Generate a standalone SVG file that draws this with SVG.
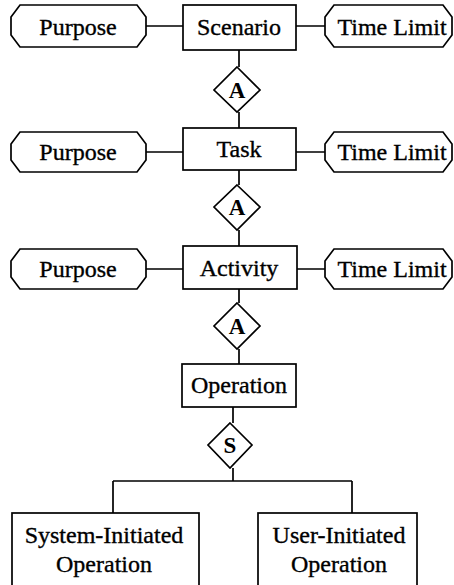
<svg xmlns="http://www.w3.org/2000/svg" width="454" height="585" viewBox="0 0 454 585">
<style>
.s{fill:#fff;stroke:#000;stroke-width:1.7}
.c{fill:none;stroke:#000;stroke-width:1.7}
text{font-family:"Liberation Serif","Times New Roman",serif;font-size:24px;text-anchor:middle;fill:#000;stroke:#000;stroke-width:0.35}
.d{font-size:23px;font-weight:bold;stroke-width:0}
</style>
<rect width="454" height="585" fill="#fff"/>
<g id="connectors">
<path class="c" d="M146 26H183M296 26H325M146 152H183M296 152H325M146 269H183M297 269H325"/>
<path class="c" d="M239 50V67M239 112V128M239 170V185M239 230V246M239 289V303M239 349V364M233 407V423M233 468V481M113 481H352M113 481V513M352 481V513"/>
</g>
<g id="purpose1"><path class="s" d="M20 5H137L146 17V35L137 47H20L11 35V17Z"/><text x="78" y="35">Purpose</text></g>
<g id="scenario"><rect class="s" x="183" y="5" width="113" height="45"/><text x="239" y="35">Scenario</text></g>
<g id="timelimit1"><path class="s" d="M334 5H443L452 17V35L443 47H334L325 35V17Z"/><text x="392" y="35">Time Limit</text></g>
<g id="a1"><path class="s" d="M237 67L260 90L237 112L214 90Z"/><text class="d" x="237" y="98">A</text></g>
<g id="purpose2"><path class="s" d="M20 132H137L146 144V160L137 172H20L11 160V144Z"/><text x="78" y="160">Purpose</text></g>
<g id="task"><rect class="s" x="183" y="128" width="113" height="42"/><text x="239" y="157">Task</text></g>
<g id="timelimit2"><path class="s" d="M334 132H443L452 144V160L443 172H334L325 160V144Z"/><text x="392" y="160">Time Limit</text></g>
<g id="a2"><path class="s" d="M237 185L260 207L237 230L214 207Z"/><text class="d" x="237" y="215">A</text></g>
<g id="purpose3"><path class="s" d="M20 249H137L146 261V277L137 289H20L11 277V261Z"/><text x="78" y="277">Purpose</text></g>
<g id="activity"><rect class="s" x="183" y="246" width="114" height="43"/><text x="239" y="276">Activity</text></g>
<g id="timelimit3"><path class="s" d="M334 249H443L452 261V277L443 289H334L325 277V261Z"/><text x="392" y="277">Time Limit</text></g>
<g id="a3"><path class="s" d="M237 303L260 326L237 349L214 326Z"/><text class="d" x="237" y="334">A</text></g>
<g id="operation"><rect class="s" x="182" y="364" width="114" height="43"/><text x="239" y="393">Operation</text></g>
<g id="s"><path class="s" d="M230 423L252 445L230 468L208 445Z"/><text class="d" x="230" y="453">S</text></g>
<g id="sysop"><rect class="s" x="12" y="513" width="187" height="80"/><text x="104" y="543">System-Initiated</text><text x="104" y="572">Operation</text></g>
<g id="userop"><rect class="s" x="258" y="513" width="159" height="80"/><text x="339" y="543">User-Initiated</text><text x="339" y="572">Operation</text></g>
</svg>
